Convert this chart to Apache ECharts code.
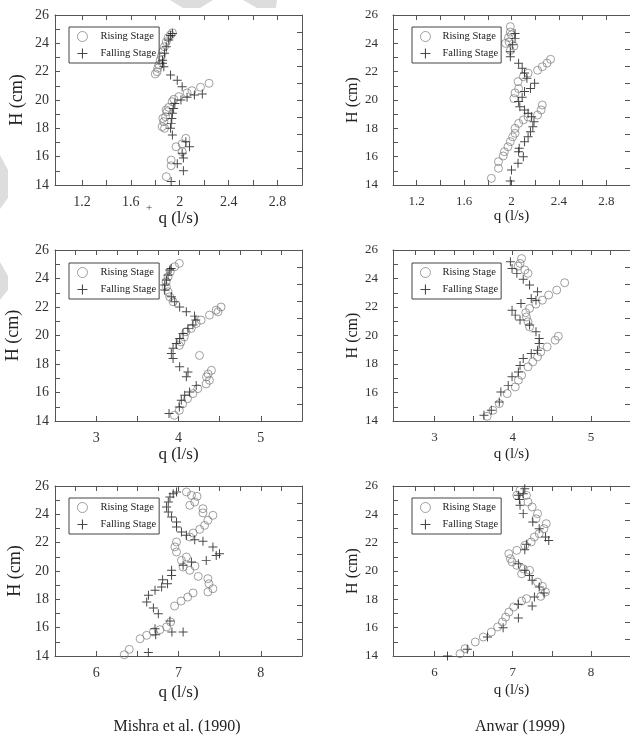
<!DOCTYPE html>
<html>
<head>
<meta charset="utf-8">
<script src="https://cdn.jsdelivr.net/npm/echarts@6/dist/echarts.min.js"></script>
<style>
  html, body { margin: 0; padding: 0; background: #fff; }
  #chart { width: 630px; height: 735px; }
</style>
</head>
<body>
<div id="chart"></div>
<script>
// data: [q (l/s), H (cm)]
var mishraRise1 = [[1.89,14.59],[1.93,15.36],[1.93,15.76],[1.97,16.7],[2.02,16.9],[2.05,17.29],[2.02,16.35],
  [1.856,18.12],[1.87,18.47],[1.884,18.82],[1.897,19.18],[1.91,19.48],[1.938,19.88],[1.876,18.0],[1.862,18.7],
  [1.889,19.3],[1.952,20.05],[1.993,20.24],[2.06,20.5],[2.10,20.66],[2.17,20.9],[2.24,21.18],
  [1.80,21.84],[1.815,22.0],[1.82,22.24],[1.83,22.47],[1.84,22.8],[1.85,23.1],[1.86,23.4],[1.875,23.76],
  [1.89,24.1],[1.905,24.4],[1.925,24.6],[1.94,24.75]];
var mishraFall1 = [[1.93,14.24],[2.03,15.0],[1.98,15.5],[2.03,15.9],[2.02,16.24],[2.08,16.7],[2.05,17.06],
  [1.94,17.53],[1.925,18.0],[1.93,18.35],[1.935,18.7],[1.94,19.06],[1.95,19.4],[1.96,19.76],[2.01,20.0],
  [2.06,20.19],[2.12,20.35],[2.185,20.42],[2.02,20.94],[1.98,21.4],[1.925,21.76],[1.87,22.35],[1.86,22.6],
  [1.86,22.8],[1.875,23.3],[1.89,23.76],[1.91,24.24],[1.925,24.55],[1.94,24.7]];
var anwarRise1 = [[1.83,14.47],[1.89,15.18],[1.89,15.65],[1.93,16.05],[1.94,16.35],[1.97,16.7],[1.99,17.06],
  [2.01,17.4],[2.03,17.65],[2.03,18.0],[2.06,18.35],[2.10,18.6],[2.14,18.8],[2.22,18.94],[2.25,19.3],[2.26,19.65],
  [2.02,20.1],[2.03,20.5],[2.06,20.8],[2.055,21.3],[2.10,21.65],[2.14,21.9],[2.22,22.1],[2.26,22.35],[2.30,22.6],
  [2.33,22.87],[1.99,25.18],[1.99,24.8],[1.975,24.4],[1.95,24.0],[1.98,24.1],[1.99,23.5],[2.02,23.8],[2.0,24.6]];
var anwarFall1 = [[1.99,14.28],[2.0,15.06],[2.055,15.53],[2.10,16.0],[2.06,16.35],[2.065,16.6],[2.11,17.06],
  [2.14,17.4],[2.16,17.76],[2.18,18.12],[2.19,18.47],[2.17,18.82],[2.14,19.06],[2.11,19.3],[2.07,19.53],
  [2.06,19.9],[2.09,20.2],[2.11,20.6],[2.16,20.82],[2.195,21.18],[2.13,21.53],[2.11,21.9],[2.09,22.24],
  [2.06,22.6],[1.99,23.06],[1.99,23.4],[2.01,23.9],[2.03,24.35],[2.03,24.7]];
var mishraRise2 = [[3.95,14.4],[4.01,14.75],[4.05,15.2],[4.11,15.57],[4.175,15.92],[4.235,16.27],[4.336,16.6],
  [4.376,16.86],[4.34,17.1],[4.36,17.3],[4.40,17.56],[4.255,18.6],[4.01,19.3],[4.03,19.55],[4.07,19.9],
  [4.09,20.26],[4.155,20.5],[4.215,20.84],[4.275,21.08],[4.376,21.43],[4.457,21.78],[4.517,22.0],[4.48,21.66],
  [3.934,22.37],[3.893,22.72],[3.873,23.07],[3.853,23.42],[3.85,23.77],[3.873,24.12],[3.90,24.48],
  [3.954,24.83],[4.01,25.06]];
var mishraFall2 = [[3.885,14.52],[4.01,14.98],[4.034,15.45],[4.075,15.8],[4.135,16.04],[4.215,16.5],
  [4.095,17.1],[4.115,17.44],[4.014,17.8],[3.934,18.38],[3.913,18.73],[3.934,19.1],[3.974,19.44],[4.014,19.79],
  [4.055,20.14],[4.115,20.5],[4.175,20.73],[4.21,21.08],[4.195,21.36],[4.095,21.66],[4.014,22.0],[3.954,22.37],
  [3.913,22.72],[3.833,23.19],[3.833,23.54],[3.853,23.89],[3.873,24.24],[3.893,24.59],[3.91,24.71]];
var anwarRise2 = [[3.673,14.33],[3.747,14.75],[3.829,15.22],[3.93,15.92],[4.033,16.39],[4.073,16.86],
  [4.114,17.21],[4.196,17.8],[4.257,18.15],[4.318,18.5],[4.359,18.85],[4.441,19.2],[4.543,19.67],[4.584,19.95],
  [4.216,20.6],[4.196,20.96],[4.176,21.3],[4.167,21.6],[4.216,21.9],[4.298,22.2],[4.38,22.48],[4.46,22.84],
  [4.563,23.19],[4.665,23.7],[4.114,25.4],[4.094,25.06],[4.155,24.6],[4.196,24.36],[4.07,24.87]];
var anwarFall2 = [[3.633,14.4],[3.727,14.75],[3.829,15.34],[3.849,16.04],[3.943,16.5],[3.992,17.1],
  [4.073,17.44],[4.094,17.9],[4.135,18.38],[4.237,18.73],[4.318,18.97],[4.339,19.44],[4.339,19.79],
  [4.298,20.26],[4.216,20.73],[4.094,21.08],[4.033,21.43],[3.992,21.78],[4.106,22.25],[4.237,22.6],
  [4.298,22.48],[4.318,23.07],[4.216,23.54],[4.135,23.94],[4.053,24.36],[3.992,24.71],[3.971,25.18]];
var mishraRise3 = [[6.341,14.09],[6.402,14.47],[6.534,15.22],[6.614,15.46],[6.695,15.7],[6.775,15.86],
  [6.855,16.05],[6.904,16.4],[6.952,17.53],[7.032,17.88],[7.112,18.16],[7.177,18.45],[7.418,18.75],
  [7.357,18.52],[7.37,19.1],[7.357,19.46],[7.24,19.62],[7.137,20.05],[7.056,20.28],[7.20,20.35],
  [7.036,20.75],[7.096,20.99],[6.976,21.34],[6.956,21.7],[6.976,22.05],[7.137,22.4],[7.177,22.68],
  [7.257,22.94],[7.317,23.22],[7.357,23.58],[7.418,23.93],[7.297,24.1],[7.297,24.4],[7.197,24.87],
  [7.225,25.27],[7.157,25.34],[7.096,25.58],[7.137,24.64]];
var mishraFall3 = [[6.634,14.24],[6.92,15.69],[7.056,15.69],[6.723,15.5],[6.715,15.93],[6.896,16.47],
  [6.755,16.99],[6.695,17.39],[6.614,17.81],[6.635,18.28],[6.715,18.64],[6.795,18.87],[6.867,19.1],
  [6.807,19.39],[6.916,19.69],[6.916,20.05],[7.056,20.4],[7.157,20.64],[7.337,20.75],[7.458,21.1],
  [7.498,21.22],[7.418,21.7],[7.297,22.1],[7.197,22.2],[7.096,22.52],[7.036,22.75],[6.976,23.1],
  [6.976,23.46],[6.916,23.81],[6.876,24.16],[6.855,24.52],[6.876,24.87],[6.896,25.22],[6.936,25.46],
  [6.976,25.58]];
var anwarRise3 = [[6.327,14.16],[6.392,14.52],[6.522,14.99],[6.624,15.34],[6.727,15.69],[6.808,16.05],
  [6.869,16.4],[6.91,16.75],[6.951,17.1],[7.012,17.46],[7.114,17.88],[7.176,18.05],[7.359,18.21],[7.42,18.52],
  [7.38,18.92],[7.318,19.22],[7.216,20.05],[7.135,20.16],[7.114,19.8],[7.053,20.4],[6.992,20.64],
  [6.971,20.87],[6.951,21.22],[7.053,21.46],[7.155,21.81],[7.237,22.05],[7.278,22.4],[7.339,22.64],
  [7.4,22.99],[7.429,23.34],[7.298,23.69],[7.318,24.05],[7.249,24.52],[7.196,24.87],[7.176,25.34],
  [7.094,25.7],[7.053,25.34]];
var anwarFall3 = [[6.167,14.0],[6.42,14.47],[6.678,15.34],[6.878,16.0],[7.073,16.68],[7.249,17.53],
  [7.073,17.65],[7.278,18.16],[7.4,18.45],[7.339,18.87],[7.249,19.34],[7.216,19.69],[7.155,20.05],
  [7.073,20.52],[7.155,21.5],[7.176,21.88],[7.461,22.16],[7.42,22.4],[7.339,22.99],[7.257,23.46],
  [7.135,24.05],[7.094,24.64],[7.086,25.04],[7.135,25.46],[7.155,25.81],[7.073,25.34]];

// tick labels
var qLabels1 = [1.2, 1.6, 2, 2.4, 2.8];
var qLabels2 = [3, 4, 5];
var qLabels3 = [6, 7, 8];
var hLabels = [14, 16, 18, 20, 22, 24, 26];

var seriesNames = ['Rising Stage', 'Falling Stage'];
var captions = ['Mishra et al. (1990)', 'Anwar (1999)'];

function steps(a, b, d) {
  var out = [];
  for (var v = a; v <= b + 1e-9; v += d) out.push(Math.round(v * 1000) / 1000);
  return out;
}

var serif = "'Liberation Serif', 'DejaVu Serif', serif";
var plusPath = 'path://M4.45,0H5.55V4.45H10V5.55H5.55V10H4.45V5.55H0V4.45H4.45Z';
var circleStyle = { color: 'rgba(255,255,255,0)', borderColor: '#7a7a7a', borderWidth: 0.9 };
var plusStyle = { color: '#1a1a1a' };

// layout of the six panels
var panels = [
  { rise: mishraRise1, fall: mishraFall1, left: 55,  top: 15,  width: 247, height: 170, min: 0.98, max: 3.0,
    labels: qLabels1, bTicks: steps(1.2, 2.8, 0.2), tTicks: steps(1.2, 2.8, 0.2), big: true,
    xGap: 24, yGap: 29, lgTop: 27 },
  { rise: anwarRise1, fall: anwarFall1, left: 393, top: 15,  width: 249, height: 170, min: 1.0, max: 3.0,
    labels: qLabels1, bTicks: steps(1.2, 2.8, 0.2), tTicks: steps(1.2, 2.8, 0.2), big: false,
    xGap: 20, yGap: 28, lgTop: 27 },
  { rise: mishraRise2, fall: mishraFall2, left: 55,  top: 250, width: 247, height: 171, min: 2.5, max: 5.5,
    labels: qLabels2, bTicks: steps(3, 5, 0.5), tTicks: steps(2.75, 5.25, 0.25), big: true,
    xGap: 23, yGap: 33, lgTop: 263 },
  { rise: anwarRise2, fall: anwarFall2, left: 393, top: 250, width: 247, height: 171, min: 2.47, max: 5.5,
    labels: qLabels2, bTicks: steps(3, 5, 0.5), tTicks: steps(2.75, 5.25, 0.25), big: false,
    xGap: 26, yGap: 28, lgTop: 263 },
  { rise: mishraRise3, fall: mishraFall3, left: 55,  top: 486, width: 247, height: 170, min: 5.5, max: 8.5,
    labels: qLabels3, bTicks: steps(6, 8, 0.5), tTicks: steps(5.75, 8.25, 0.25), big: true,
    xGap: 28, yGap: 31, lgTop: 498 },
  { rise: anwarRise3, fall: anwarFall3, left: 393, top: 486, width: 247, height: 170, min: 5.47, max: 8.5,
    labels: qLabels3, bTicks: steps(6, 8, 0.5), tTicks: steps(5.75, 8.25, 0.25), big: false,
    xGap: 27, yGap: 28, lgTop: 498 }
];

var axisColor = '#555';
var grids = [], xAxes = [], yAxes = [], series = [], legends = [];

panels.forEach(function (p, i) {
  var lblSize = p.big ? 14 : 13;
  var nameSize = p.big ? 17 : 15;
  grids.push({ left: p.left, top: p.top, width: p.width, height: p.height });

  xAxes.push({
    gridIndex: i, type: 'value', position: 'bottom', min: p.min, max: p.max,
    axisLine: { onZero: false, lineStyle: { color: axisColor, width: 1 } },
    axisTick: { inside: true, length: 5, customValues: p.bTicks, lineStyle: { color: axisColor } },
    axisLabel: { customValues: p.labels, fontFamily: serif, fontSize: lblSize, color: '#333', margin: 10 },
    splitLine: { show: false },
    name: 'q (l/s)', nameLocation: 'middle', nameGap: p.xGap,
    nameTextStyle: { fontFamily: serif, fontSize: nameSize, color: '#222' }
  });
  xAxes.push({
    gridIndex: i, type: 'value', position: 'top', min: p.min, max: p.max,
    axisLine: { onZero: false, lineStyle: { color: axisColor, width: 1 } },
    axisTick: { inside: true, length: 5, customValues: p.tTicks, lineStyle: { color: axisColor } },
    axisLabel: { show: false }, splitLine: { show: false }
  });

  yAxes.push({
    gridIndex: i, type: 'value', position: 'left', min: 14, max: 26,
    axisLine: { onZero: false, lineStyle: { color: axisColor, width: 1 } },
    axisTick: { inside: true, length: 5, customValues: steps(15, 25, 1), lineStyle: { color: axisColor } },
    axisLabel: { customValues: hLabels, fontFamily: serif, fontSize: lblSize, color: '#333',
      margin: p.big ? 6 : 15 },
    splitLine: { show: false },
    name: 'H (cm)', nameLocation: 'middle', nameGap: p.yGap, nameRotate: 90,
    nameTextStyle: { fontFamily: serif, fontSize: nameSize + 1, color: '#222' }
  });
  yAxes.push({
    gridIndex: i, type: 'value', position: 'right', min: 14, max: 26,
    axisLine: { onZero: false, lineStyle: { color: axisColor, width: 1 } },
    axisTick: { inside: true, length: 5, customValues: steps(15.2, 24.8, 1.2), lineStyle: { color: axisColor } },
    axisLabel: { show: false }, splitLine: { show: false }
  });

  series.push({
    name: seriesNames[0], type: 'scatter', xAxisIndex: 2 * i, yAxisIndex: 2 * i,
    symbol: 'circle', symbolSize: 8, data: p.rise, itemStyle: circleStyle
  });
  series.push({
    name: seriesNames[1], type: 'scatter', xAxisIndex: 2 * i, yAxisIndex: 2 * i,
    symbol: plusPath, symbolSize: 9, data: p.fall, itemStyle: plusStyle
  });

  legends.push({
    data: [
      { name: seriesNames[0], icon: 'circle', itemStyle: circleStyle },
      { name: seriesNames[1], icon: plusPath, itemStyle: plusStyle }
    ],
    orient: 'vertical',
    left: p.big ? 69 : 412, top: p.lgTop,
    itemWidth: 10, itemHeight: 10, itemGap: 6,
    padding: [4, 3, 4, 8],
    borderColor: '#444', borderWidth: 1,
    selectedMode: false,
    textStyle: { fontFamily: serif, fontSize: 10.5, color: '#222', padding: [0, 0, 0, p.big ? 8 : 7] }
  });
});

var chart = echarts.init(document.getElementById('chart'));
chart.setOption({
  backgroundColor: '#fff',
  animation: false,
  grid: grids,
  xAxis: xAxes,
  yAxis: yAxes,
  legend: legends,
  series: series,
  graphic: [
    // faint grey shapes of the scanned page
    { type: 'polygon', shape: { points: [[170, 0], [213, 0], [200, 8], [183, 8]] }, style: { fill: '#dddddd' }, z: -1 },
    { type: 'polygon', shape: { points: [[243, 0], [277, 0], [276, 8], [257, 8]] }, style: { fill: '#dddddd' }, z: -1 },
    { type: 'polygon', shape: { points: [[0, 155], [8, 170], [8, 198], [0, 209]] }, style: { fill: '#dddddd' }, z: -1 },
    { type: 'polygon', shape: { points: [[0, 262], [8, 276], [8, 290], [0, 300]] }, style: { fill: '#dddddd' }, z: -1 },
    { type: 'text', left: 146, top: 203, style: { text: '+', font: '11px "Liberation Serif"', fill: '#333' } },
    { type: 'text', x: 177, y: 727, style: { text: captions[0], font: '16px "Liberation Serif"', fill: '#222',
      textAlign: 'center', textVerticalAlign: 'middle' } },
    { type: 'text', x: 520, y: 727, style: { text: captions[1], font: '16px "Liberation Serif"', fill: '#222',
      textAlign: 'center', textVerticalAlign: 'middle' } }
  ]
});
</script>
</body>
</html>
